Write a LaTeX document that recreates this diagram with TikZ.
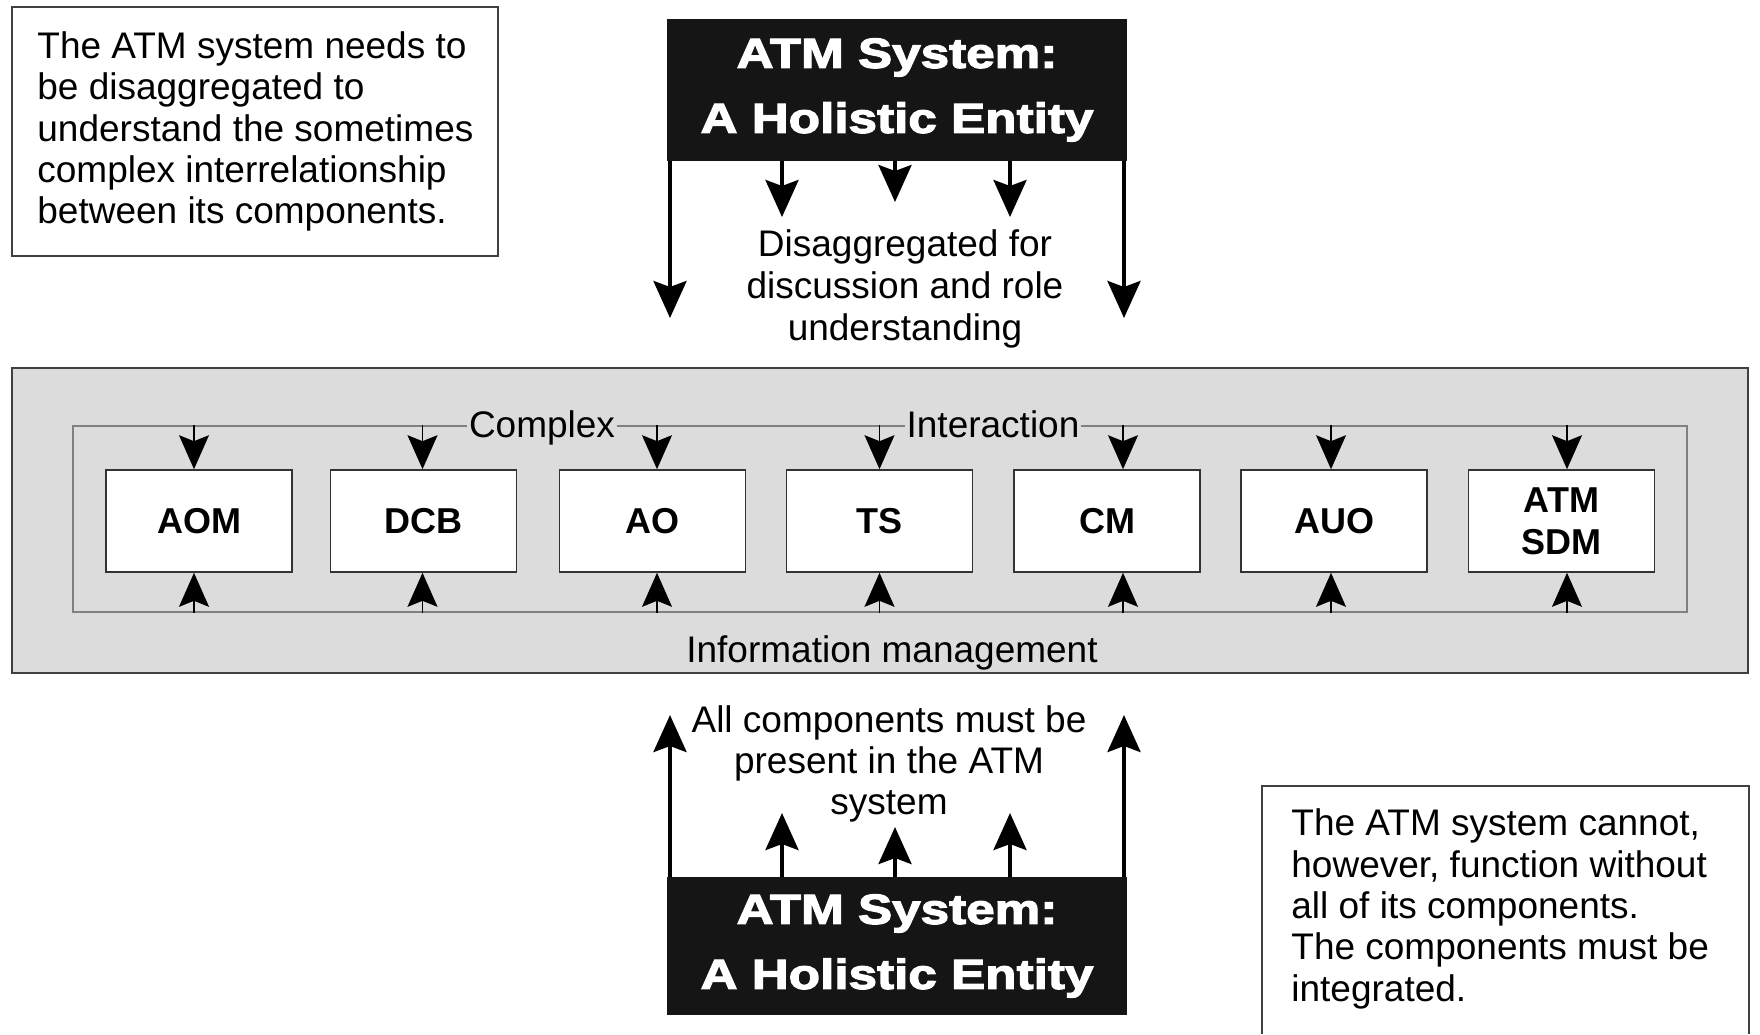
\documentclass[tikz,border=0pt]{standalone}
\usepackage{fontspec}
\setmainfont{Liberation Sans}
\newfontfamily\blackfont[FakeStretch=1.22,BoldFeatures={FakeBold=3}]{Liberation Sans}
\usetikzlibrary{arrows.meta}
\definecolor{panelgray}{HTML}{DCDCDC}
\definecolor{linegray}{HTML}{808080}
\definecolor{boxblack}{HTML}{151515}
\begin{document}
\begin{tikzpicture}[x=0.5pt,y=-0.5pt,
  txt/.style={font=\fontsize{18.5}{20.7}\selectfont, inner sep=0pt},
  bigarrow/.style={line width=2pt, -{Stealth[length=18.5pt,width=16.5pt,inset=3pt]}},
  smallarrow/.style={line width=0.6pt, -{Stealth[length=17pt,width=15pt,inset=3pt]}},
  comp/.style={draw=black!80, fill=white, line width=0.8pt, minimum width=93pt, minimum height=51pt, font=\fontsize{18}{21}\selectfont\bfseries, inner sep=0pt, align=center},
  holistic/.style={fill=boxblack, text=white, minimum width=230pt, minimum height=71pt, inner sep=0pt, align=center, font=\blackfont\bfseries\fontsize{21}{32.5}\selectfont},
  boxline/.style={draw=black!75, line width=0.8pt}
]
\useasboundingbox (0,0) rectangle (1760,1034);

% left note
\node[boxline, minimum width=243pt, minimum height=124.5pt, inner sep=0pt] (note1box) at (255,131.5) {};
\node[txt, align=left, anchor=west] (note1) at (37,131.5)
  {The ATM system needs to\\ be disaggregated to\\ understand the sometimes\\ complex interrelationship\\ between its components.};

% top holistic box
\node[holistic] (top) at (897,90) {ATM System:\\A Holistic Entity};
\node[txt, align=center, font=\fontsize{18.5}{21}\selectfont] (dis) at (905,289) {Disaggregated for\\discussion and role\\understanding};

\coordinate (t1) at (670,318);
\coordinate (t2) at (782,217);
\coordinate (t3) at (895,202);
\coordinate (t4) at (1010,217);
\coordinate (t5) at (1124,318);
\foreach \c in {t1,t2,t3,t4,t5} \draw[bigarrow] (\c |- top.south) -- (\c);

% panel
\node[boxline, fill=panelgray, minimum width=868pt, minimum height=152.5pt, inner sep=0pt] (panel) at (880,520.5) {};
\node[draw=linegray, line width=1.2pt, minimum width=807pt, minimum height=93pt, inner sep=0pt] (inner) at (880,519) {};

\node[txt, fill=panelgray, inner xsep=1pt, anchor=base] (complex) at (542,437) {Complex};
\node[txt, fill=panelgray, inner xsep=1pt, anchor=base] (interaction) at (993,437) {Interaction};
\node[txt, anchor=base] (info) at (892,662) {Information management};

\node[comp] (AOM) at (199,521) {AOM};
\node[comp] (DCB) at (423.5,521) {DCB};
\node[comp] (AO) at (652.5,521) {AO};
\node[comp] (TS) at (879.5,521) {TS};
\node[comp] (CM) at (1107,521) {CM};
\node[comp] (AUO) at (1334,521) {AUO};
\node[comp, text depth=-2pt] (SDM) at (1561.5,521) {ATM\\SDM};

\foreach \n/\dx in {AOM/-2.5pt, DCB/-0.5pt, AO/2.25pt, TS/0pt, CM/8pt, AUO/-1.5pt, SDM/2.75pt} {
  \draw[smallarrow] ([xshift=\dx]\n.north |- inner.north) -- ([xshift=\dx]\n.north);
  \draw[smallarrow] ([xshift=\dx]\n.south |- inner.south) -- ([xshift=\dx]\n.south);
}

% bottom
\node[txt, align=center, font=\fontsize{18.5}{20.5}\selectfont] (allc) at (889,764) {All components must be\\present in the ATM\\system};
\node[holistic, minimum height=69pt] (bot) at (897,946) {ATM System:\\A Holistic Entity};

\coordinate (b1) at (670,715);
\coordinate (b2) at (782,813);
\coordinate (b3) at (895,827);
\coordinate (b4) at (1010,813);
\coordinate (b5) at (1124,715);
\foreach \c in {b1,b2,b3,b4,b5} \draw[bigarrow] (\c |- bot.north) -- (\c);

% right note
\node[txt, align=left, anchor=west] (note2) at (1291,909)
  {The ATM system cannot,\\ however, function without\\ all of its components.\\ The components must be\\ integrated.};
\draw[boxline] (1262,1034) |- (1749,786) -- (1749,1034);
\end{tikzpicture}
\end{document}
